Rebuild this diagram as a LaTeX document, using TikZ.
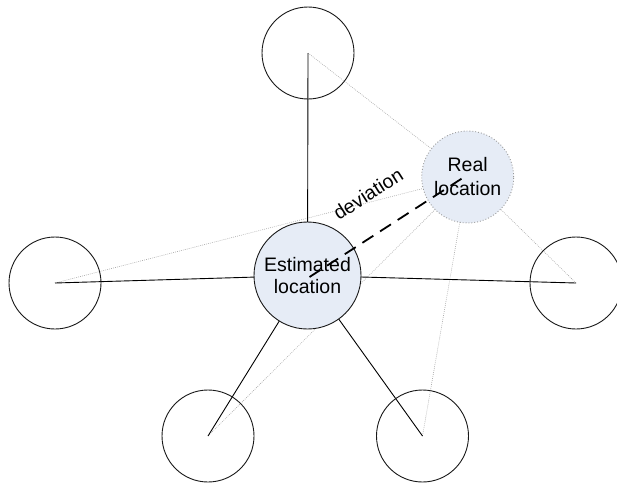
\documentclass[tikz,border=0pt]{standalone}
\usepackage{fontspec}
\setmainfont{Liberation Sans}
\begin{document}
\begin{tikzpicture}[x=1pt,y=-1pt,
  outer/.style={circle,draw=black!90,line width=0.9pt,minimum size=92pt,inner sep=0pt},
  estbox/.style={circle,draw=black!90,line width=0.9pt,fill=blueish,minimum size=107pt,inner sep=0pt,align=center,font=\fontsize{19.5}{22.7}\selectfont},
  realbox/.style={circle,draw=gray!80,line width=0.9pt,dotted,fill=blueish,minimum size=92pt,inner sep=0pt,align=center,font=\fontsize{19.5}{24}\selectfont},
  solidlink/.style={draw=black,line width=0.9pt},
  dotlink/.style={draw=gray!70,line width=0.6pt,dash pattern=on 0.8pt off 1.2pt},
  devlink/.style={draw=black,line width=1.8pt,dash pattern=on 13pt off 8pt},
  lbl/.style={font=\fontsize{19.5}{22}\selectfont,inner sep=0pt}]
\definecolor{blueish}{RGB}{230,236,246}
\useasboundingbox (0,0) rectangle (617,482);
% centres
\coordinate (ct) at (308,53);
\coordinate (cl) at (55,283);
\coordinate (cr) at (576,283);
\coordinate (cbl) at (208,436);
\coordinate (cbr) at (422.5,436);
\coordinate (ce) at (307.5,275.5);
\coordinate (cre) at (467.7,177);
% dotted lines to real location
\foreach \c in {ct,cl,cr,cbl,cbr} \draw[dotlink] (\c) -- (cre);
% solid lines to estimated location
\foreach \c in {ct,cl,cr,cbl,cbr} \draw[solidlink] (\c) -- (ce);
% outer circles
\node[outer] (top) at (ct) {};
\node[outer] (left) at (cl) {};
\node[outer] (right) at (cr) {};
\node[outer] (botleft) at (cbl) {};
\node[outer] (botright) at (cbr) {};
% estimated and real
\node[estbox] (est) at (ce) {Estimated\\location};
\node[realbox] (real) at (cre) {Real\\location};
% deviation
\draw[devlink] ([xshift=2pt,yshift=-1.5pt]est.center) -- ([xshift=-2pt,yshift=1pt]real.center);
\node[lbl,rotate=32.5] (devlabel) at (368,194) {deviation};
\end{tikzpicture}
\end{document}
